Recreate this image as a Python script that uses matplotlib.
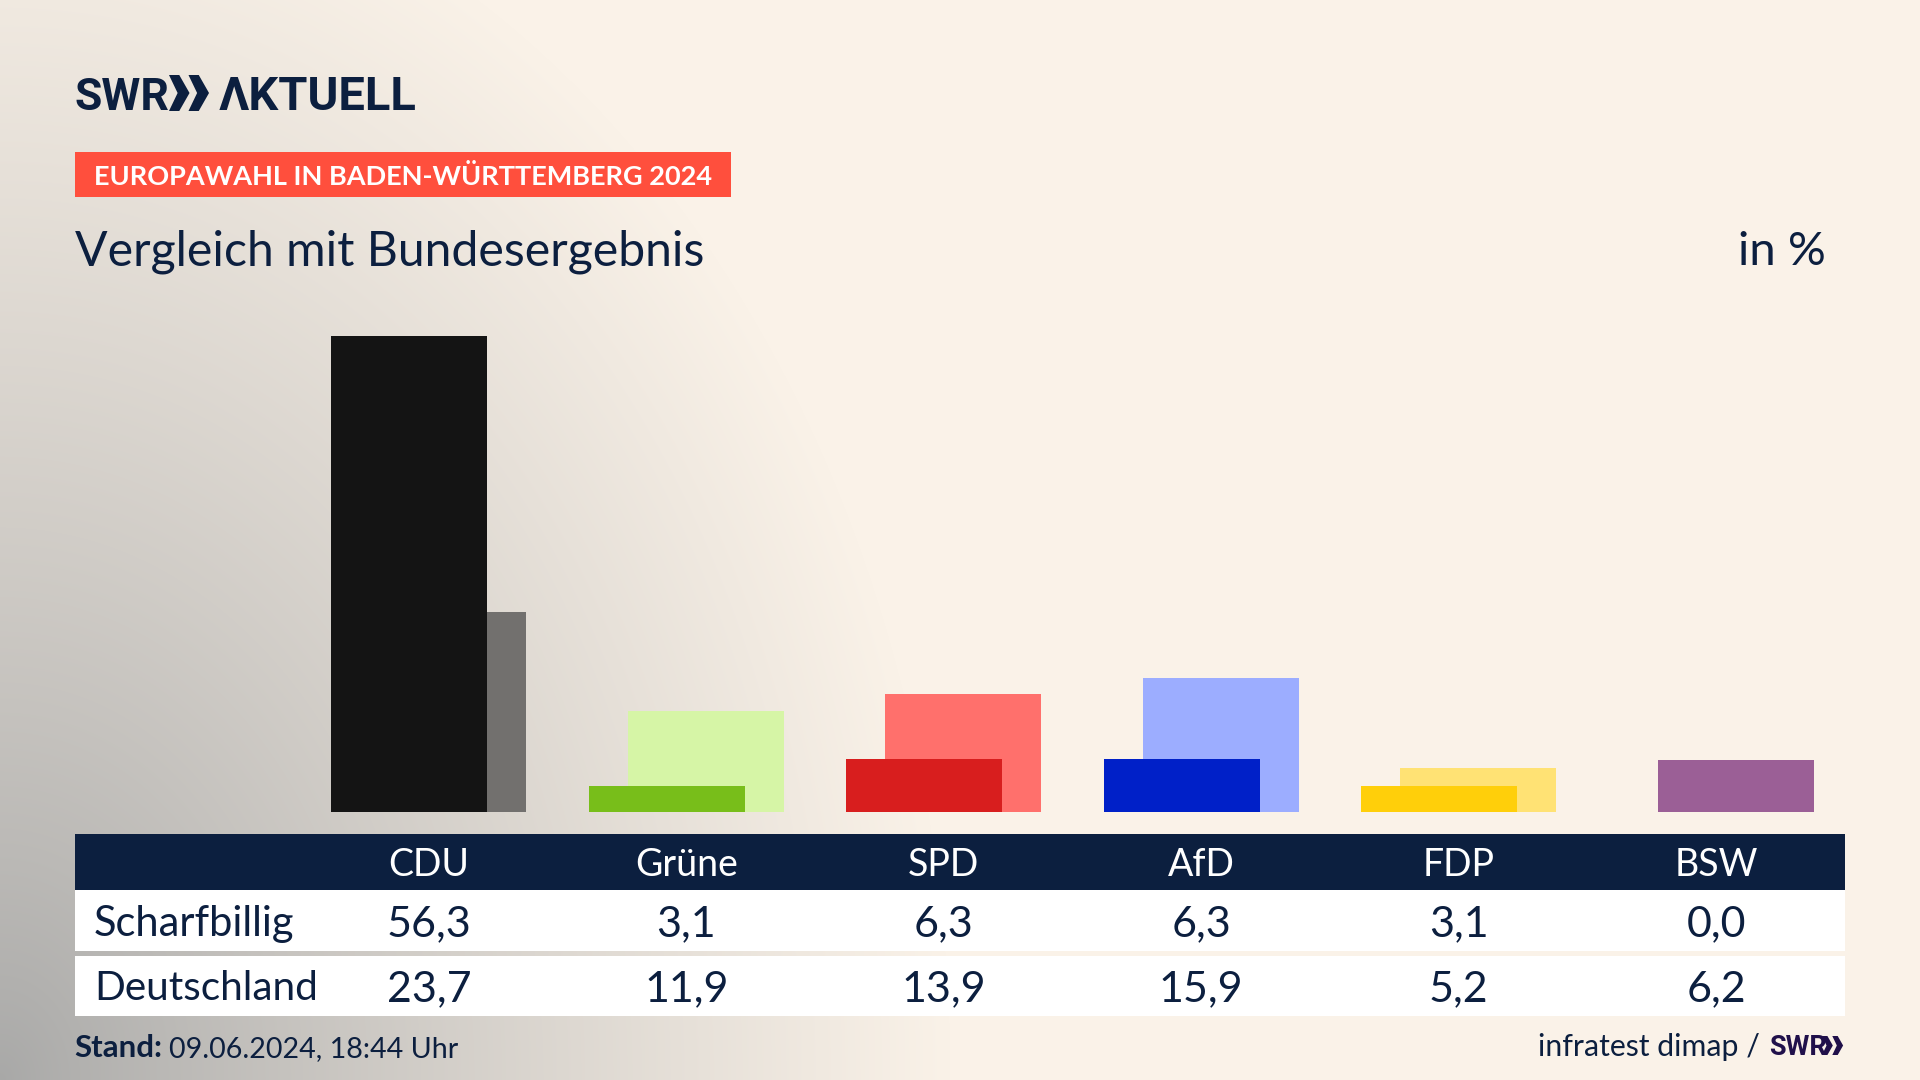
import numpy as np
import matplotlib
matplotlib.use("Agg")
import matplotlib.pyplot as plt

AZUL = "#0c1f3f"


class ReporteVergleich:
    def __init__(self):
        self.partidos = ["CDU", "Grüne", "SPD", "AfD", "FDP", "BSW"]
        self.scharfbillig = [56.3, 3.1, 6.3, 6.3, 3.1, 0.0]
        self.deutschland = [23.7, 11.9, 13.9, 15.9, 5.2, 6.2]
        self.colores = ["#141414", "#78be1a", "#d81e1e", "#0020c8", "#ffcf0a", "#9b5f96"]
        self.coloresClaros = ["#72706e", "#d6f5a6", "#ff706c", "#9cadff", "#ffe274", "#9b5f96"]

    def formato(self, valor):
        return f"{valor:.1f}".replace(".", ",")

    def flechas(self, x, y, alto, color):
        # Las dos flechas del logo
        ancho = alto * 0.57
        for inicio in [x, x + ancho * 0.95]:
            plt.fill(
                [inicio, inicio + ancho * 0.5, inicio + ancho, inicio + ancho * 0.5, inicio, inicio + ancho * 0.42],
                [y - alto, y - alto, y - alto / 2, y, y, y - alto / 2],
                color=color,
                linewidth=0
            )

    def dibujar_fondo(self):
        plt.axes([0, 0, 1, 1])
        yy, xx = np.mgrid[0:1080, 0:1920]
        dist = np.sqrt((xx / 950) ** 2 + ((1080 - yy) / 1250) ** 2)
        t = np.clip(dist, 0, 1)[..., None] ** 0.85
        gris = np.array([168, 168, 167]) / 255
        crema = np.array([250, 242, 232]) / 255
        plt.imshow(gris + (crema - gris) * t, extent=(0, 1920, 1080, 0), aspect="auto")
        plt.xlim(0, 1920)
        plt.ylim(1080, 0)
        plt.axis("off")

    def dibujar_textos(self):
        fuente = "Lato"
        logo = "Roboto"

        # Logo
        plt.text(75, 110, "SWR", fontsize=32, fontweight="bold", color=AZUL, family=logo)
        self.flechas(169, 111, 36, AZUL)
        plt.text(219, 110, "ΛKTUELL", fontsize=33.8, fontweight="bold", color=AZUL, family=logo)

        # Etiqueta roja
        plt.fill([75, 731, 731, 75], [152, 152, 197, 197], color="#ff4f3d", linewidth=0)
        plt.text(94, 185, "EUROPAWAHL IN BADEN-WÜRTTEMBERG 2024", fontsize=19.5, fontweight="bold", color="white", family=fuente)

        # Titulo
        plt.text(75, 265, "Vergleich mit Bundesergebnis", fontsize=34.7, color=AZUL, family=fuente)
        plt.text(1826, 265, "in %", fontsize=34, color=AZUL, family=fuente, ha="right")

        # Tabla
        plt.fill([75, 1845, 1845, 75], [834, 834, 890, 890], color=AZUL, linewidth=0)
        plt.fill([75, 1845, 1845, 75], [890, 890, 951, 951], color="white", linewidth=0)
        plt.fill([75, 1845, 1845, 75], [956, 956, 1016, 1016], color="white", linewidth=0)
        plt.text(94, 936, "Scharfbillig", fontsize=30, color=AZUL, family=fuente)
        plt.text(94, 1000, "Deutschland", fontsize=29.2, color=AZUL, family=fuente)

        for i, partido in enumerate(self.partidos):
            x = 429 + 257.4 * i
            plt.text(x, 876, partido, fontsize=27, color="white", family=fuente, ha="center")
            plt.text(x, 936, self.formato(self.scharfbillig[i]), fontsize=31, color=AZUL, family=fuente, ha="center")
            plt.text(x, 1001, self.formato(self.deutschland[i]), fontsize=31, color=AZUL, family=fuente, ha="center")

        # Pie
        plt.text(74, 1057, "Stand:", fontsize=22.5, fontweight="bold", color=AZUL, family=fuente)
        plt.text(169, 1057, "09.06.2024, 18:44 Uhr", fontsize=20.6, color=AZUL, family=fuente)
        plt.text(1760, 1056, "infratest dimap /", fontsize=21.8, color=AZUL, family=fuente, ha="right")
        plt.text(1769, 1055, "SWR", fontsize=19.5, fontweight="bold", color="#20104a", family=logo)
        self.flechas(1822, 1055, 19, "#20104a")

    def generarGrafico(self, ruta_png="out.png"):
        plt.figure(figsize=(19.2, 10.8), dpi=100)
        self.dibujar_fondo()
        self.dibujar_textos()

        # Barras: cero en y=812, 56,3 en y=336
        plt.axes([75 / 1920, (1080 - 812) / 1080, 1770 / 1920, 476 / 1080], facecolor="none")
        posiciones = np.arange(len(self.partidos))
        plt.bar(posiciones + 0.0757, self.deutschland, width=0.606, color=self.coloresClaros)
        plt.bar(posiciones - 0.0757, self.scharfbillig, width=0.606, color=self.colores)
        plt.xlim((75 - 428.5) / 257.6, (1845 - 428.5) / 257.6)
        plt.ylim(0, 56.3)
        plt.axis("off")

        # Guardar grafico
        plt.savefig(ruta_png, dpi=100)
        plt.close()

        return ruta_png


ReporteVergleich().generarGrafico()
